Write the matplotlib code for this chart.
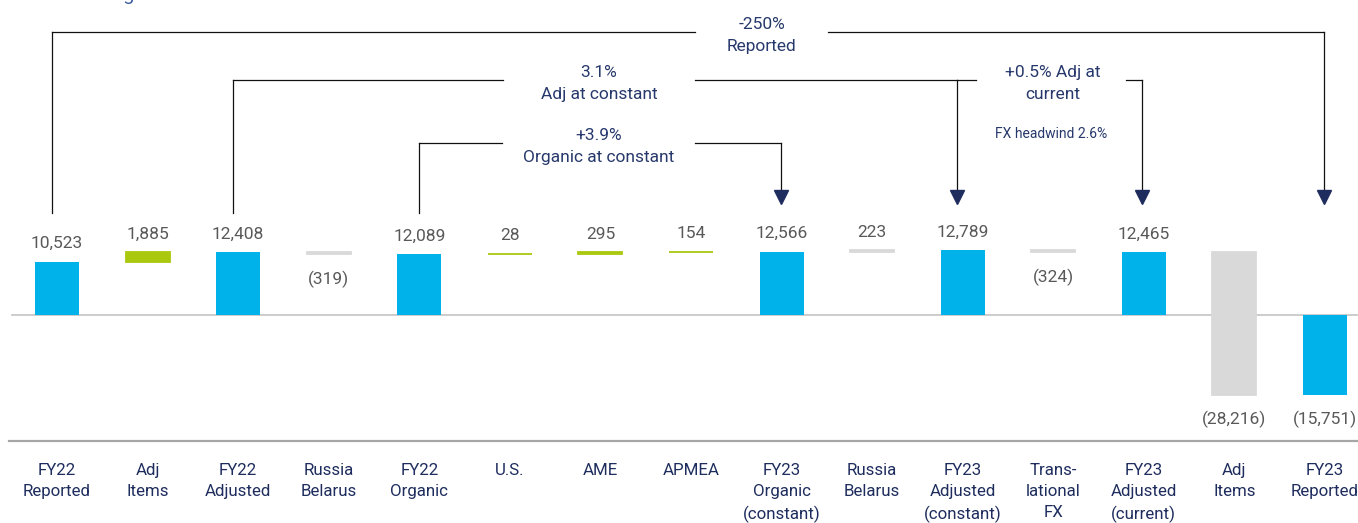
import matplotlib
matplotlib.use("Agg")
import matplotlib.pyplot as plt

# ---------------- data ----------------
categories = ["FY22\nReported", "Adj\nItems", "FY22\nAdjusted", "Russia\nBelarus",
              "FY22\nOrganic", "U.S.", "AME", "APMEA", "FY23\nOrganic\n(constant)",
              "Russia\nBelarus", "FY23\nAdjusted\n(constant)", "Trans-\nlational\nFX",
              "FY23\nAdjusted\n(current)", "Adj\nItems", "FY23\nReported"]
values = [10523, 1885, 12408, -319, 12089, 28, 295, 154, 12566, 223, 12789, -324,
          12465, -28216, -15751]
is_total = [True, False, True, False, True, False, False, False, True, False, True,
            False, True, False, True]
bar_kind = ["total", "growth", "total", "other", "total", "growth", "growth", "growth",
            "total", "other", "total", "other", "total", "other", "total"]

bracket_texts = ["-250%\nReported", "3.1%\nAdj at constant",
                 "+3.9%\nOrganic at constant", "+0.5% Adj at\ncurrent"]
note_text = "FX headwind 2.6%"
subtitle = "The following chart is in £m"

# ---------------- style ----------------
colors = {"total": "#00B2EA", "growth": "#A9C80E", "other": "#D9D9D9"}
navy = "#1E2D5E"
text_navy = "#27396C"
gray_txt = "#595959"
plt.rcParams["font.family"] = ["Roboto", "DejaVu Sans"]

W, H = 1358, 523
fig = plt.figure(figsize=(W / 100, H / 100), dpi=100)
ax = fig.add_axes([0, 0, 1, 1])
ax.axis("off")

X0, DX = 57.0, 90.57      # pixel centre of first bar, spacing
ZERO, UPP = 315.0, 198.0  # pixel of zero line, units per pixel


def X(px):
    return (px - X0) / DX


def Y(py):
    return (ZERO - py) * UPP


ax.set_xlim(X(0), X(W))
ax.set_ylim(Y(H), Y(0))

# ---------------- bars ----------------
running = 0
for i, (v, tot, kind) in enumerate(zip(values, is_total, bar_kind)):
    if tot:
        bottom = 0
        running = v
    else:
        bottom = running
        running += v
    c = colors[kind]
    ax.bar(i, v, bottom=bottom, width=0.486, color=c,
           edgecolor=c, linewidth=0 if tot else 1.3, zorder=3)
    top = max(bottom, bottom + v)
    low = min(bottom, bottom + v)
    lab = f"({abs(v):,})" if v < 0 else f"{v:,}"
    if v >= 0:
        ax.annotate(lab, (i, top), xytext=(0, 13), textcoords="offset points",
                    ha="center", va="center", fontsize=12.5, color=gray_txt)
    else:
        ax.annotate(lab, (i, low), xytext=(0, -18), textcoords="offset points",
                    ha="center", va="center", fontsize=12.5, color=gray_txt)

# axis lines
ax.plot([X(12), X(W)], [0, 0], color="#C4C4C4", lw=1.2, zorder=2)
ax.plot([X(9), X(W)], [Y(441), Y(441)], color="#A6A6A6", lw=1.6, zorder=2)

# category labels
for i, lab in enumerate(categories):
    ax.text(i, Y(463), lab, ha="center", va="top", fontsize=12.2, color=navy,
            linespacing=1.5)

# ---------------- brackets ----------------
line_kw = dict(color="#111111", lw=0.9, zorder=4)
ARROW_TOP = 190
LEFT_END = 213


def bracket(xl_px, xr_px, y_px, gap, text, text_x, left_px=LEFT_END, left=True):
    if left:
        ax.plot([X(xl_px), X(xl_px)], [Y(y_px), Y(left_px)], **line_kw)
    ax.plot([X(xl_px), X(gap[0])], [Y(y_px)] * 2, **line_kw)
    ax.plot([X(gap[1]), X(xr_px)], [Y(y_px)] * 2, **line_kw)
    ax.plot([X(xr_px), X(xr_px)], [Y(y_px), Y(ARROW_TOP)], **line_kw)
    ax.plot([X(xr_px)], [Y(197)], marker="v", markersize=10, color=navy, zorder=5)
    ax.text(X(text_x), Y(y_px - 15), text, ha="center", va="top", fontsize=12.5,
            color=text_navy, linespacing=1.55)


bracket(52, 1324, 32, (695, 828), bracket_texts[0], 762)
bracket(233, 957, 80, (503, 695), bracket_texts[1], 599)
bracket(419, 781, 143, (502, 695), bracket_texts[2], 599)
bracket(957, 1142, 80, (976, 1126), bracket_texts[3], 1053, left=False)
ax.text(X(1051), Y(134), note_text, ha="center", va="center", fontsize=10,
        color=text_navy)

# partially visible subtitle
ax.text(X(17), Y(0), subtitle, ha="left", va="baseline", fontsize=14,
        color="#3A5AA0")

fig.savefig("out.png", dpi=100)
